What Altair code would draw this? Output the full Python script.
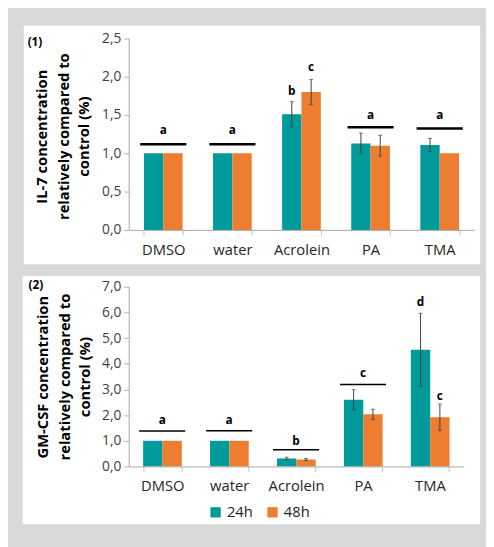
import altair as alt
import pandas as pd

categories = ["DMSO", "water", "Acrolein", "PA", "TMA"]
series_names = ["24h", "48h"]
colors = ["#009a9a", "#ed7d31"]

# Panel 1: IL-7
il7_title = ["IL-7 concentration", "relatively compared to", "control (%)"]
il7_24h = [1.00, 1.00, 1.51, 1.13, 1.11]
il7_24h_err = [0.0, 0.0, 0.165, 0.135, 0.085]
il7_48h = [1.00, 1.00, 1.80, 1.10, 1.00]
il7_48h_err = [0.0, 0.0, 0.165, 0.135, 0.0]
il7_group_cats = ["DMSO", "water", "PA", "TMA"]
il7_group_line = [1.12, 1.12, 1.34, 1.325]
il7_group_letter_y = [1.30, 1.30, 1.50, 1.50]
il7_group_letters = ["a", "a", "a", "a"]
il7_bar_cats = ["Acrolein", "Acrolein"]
il7_bar_series = ["24h", "48h"]
il7_bar_letter_y = [1.81, 2.13]
il7_bar_letters = ["b", "c"]

# Panel 2: GM-CSF
gm_title = ["GM-CSF concentration", "relatively compared to", "control (%)"]
gm_24h = [1.00, 1.00, 0.31, 2.60, 4.55]
gm_24h_err = [0.0, 0.0, 0.05, 0.39, 1.42]
gm_48h = [1.00, 1.00, 0.27, 2.03, 1.92]
gm_48h_err = [0.0, 0.0, 0.04, 0.20, 0.51]
gm_group_cats = ["DMSO", "water", "Acrolein", "PA"]
gm_group_line = [1.38, 1.39, 0.65, 3.19]
gm_group_letter_y = [1.79, 1.79, 1.00, 3.62]
gm_group_letters = ["a", "a", "b", "c"]
gm_bar_cats = ["TMA", "TMA"]
gm_bar_series = ["24h", "48h"]
gm_bar_letter_y = [6.39, 2.74]
gm_bar_letters = ["d", "c"]

FONT = "Open Sans"


def bars_frame(v24, e24, v48, e48):
    rows = []
    for c, a, ea, b, eb in zip(categories, v24, e24, v48, e48):
        rows.append({"cat": c, "series": "24h", "value": a, "lo": a - ea, "hi": a + ea})
        rows.append({"cat": c, "series": "48h", "value": b, "lo": b - eb, "hi": b + eb})
    return pd.DataFrame(rows)


def panel(v24, e24, v48, e48, gcats, gline, gly, glet, bcats, bser, bly, blet,
          width, height, ymax, ystep, title, title_x, title_y, label, rect, label_pos,
          pad_inner, line_thick, legend):
    df = bars_frame(v24, e24, v48, e48)
    df_err = df[df["hi"] > df["lo"]]
    gdf = pd.DataFrame({"cat": gcats, "y": gline, "ly": gly, "t": glet})
    bdf = pd.DataFrame({"cat": bcats, "series": bser, "ly": bly, "t": blet})

    xscale = alt.Scale(domain=categories, paddingInner=pad_inner, paddingOuter=pad_inner / 2)
    xax = alt.Axis(
        title=None, labelAngle=0, labelFont=FONT, labelFontSize=15, labelColor="#262626",
        domainColor="#a6a6a6", tickColor="#bfbfbf", tickSize=5, tickBand="extent",
        labelPadding=8, zindex=1)
    yvals = [round(i * ystep, 2) for i in range(int(round(ymax / ystep)) + 1)]
    yscale = alt.Scale(domain=[0, ymax], nice=False, zero=True)
    yax = alt.Axis(
        title=None, values=yvals, labelExpr="replace(format(datum.value, '.1f'), '.', ',')",
        labelFont=FONT, labelFontSize=14, labelColor="#404040", labelPadding=3,
        labelOverlap=False, domainColor="#a6a6a6", tickColor="#b4b4b4", tickSize=5,
        grid=False, zindex=1)

    def X():
        return alt.X("cat:N", scale=xscale, axis=xax)

    def XO():
        return alt.XOffset("series:N", scale=alt.Scale(domain=series_names, paddingInner=0, paddingOuter=0))

    def Y(field):
        return alt.Y(field, scale=yscale, axis=yax)

    one = pd.DataFrame({"k": [0]})
    bg = alt.Chart(one).mark_rect(color="white").encode(
        x=alt.value(rect[0]), x2=alt.value(rect[1]), y=alt.value(rect[2]), y2=alt.value(rect[3]))

    color = alt.Color("series:N", scale=alt.Scale(domain=series_names, range=colors),
                      legend=alt.Legend(title=None, orient="none", legendX=legend[0], legendY=legend[1],
                                        direction="horizontal", symbolType="square", symbolSize=110,
                                        symbolStrokeWidth=0, labelFont=FONT, labelFontSize=15,
                                        labelColor="#262626", columnPadding=12, padding=0, zindex=1)
                      if legend else None)

    bars = alt.Chart(df).mark_bar().encode(x=X(), xOffset=XO(), y=Y("value:Q"), color=color)
    err = alt.Chart(df_err).mark_rule(color="#404040", strokeWidth=1).encode(
        x=X(), xOffset=XO(), y=Y("lo:Q"), y2="hi:Q")
    cap_hi = alt.Chart(df_err).mark_tick(color="#404040", size=4, thickness=1).encode(
        x=X(), xOffset=XO(), y=Y("hi:Q"))
    cap_lo = alt.Chart(df_err).mark_tick(color="#404040", size=4, thickness=1).encode(
        x=X(), xOffset=XO(), y=Y("lo:Q"))
    sig = alt.Chart(gdf).mark_tick(color="#000000", size=47, thickness=line_thick, opacity=1).encode(
        x=X(), y=Y("y:Q"))
    glab = alt.Chart(gdf).mark_text(font=FONT, fontSize=12, fontWeight="bold", color="#000000",
                                    baseline="middle").encode(x=X(), y=Y("ly:Q"), text="t:N")
    blab = alt.Chart(bdf).mark_text(font=FONT, fontSize=12, fontWeight="bold", color="#000000",
                                    baseline="middle").encode(x=X(), xOffset=XO(), y=Y("ly:Q"), text="t:N")
    plabel = alt.Chart(one).mark_text(
        font=FONT, fontSize=12, fontWeight="bold", color="#000000", align="left", baseline="middle").encode(
        x=alt.value(label_pos[0]), y=alt.value(label_pos[1]), text=alt.value(label))
    title_layers = [
        alt.Chart(one).mark_text(font=FONT, fontSize=15, fontWeight="bold", color="#000000",
                                 angle=270, align="center", baseline="middle").encode(
            x=alt.value(tx), y=alt.value(title_y), text=alt.value(t))
        for t, tx in zip(title, title_x)
    ]

    return alt.layer(bg, bars, err, cap_hi, cap_lo, sig, glab, blab, plabel, *title_layers).properties(
        width=width, height=height)


top = panel(il7_24h, il7_24h_err, il7_48h, il7_48h_err,
            il7_group_cats, il7_group_line, il7_group_letter_y, il7_group_letters,
            il7_bar_cats, il7_bar_series, il7_bar_letter_y, il7_bar_letters,
            width=352, height=195, ymax=2.5, ystep=0.5,
            title=il7_title, title_x=(-88, -66, -45), title_y=100,
            label="(1)", rect=(-107, 358, -13, 230), label_pos=(-103, 4),
            pad_inner=0.44, line_thick=2.5, legend=None)

bottom = panel(gm_24h, gm_24h_err, gm_48h, gm_48h_err,
               gm_group_cats, gm_group_line, gm_group_letter_y, gm_group_letters,
               gm_bar_cats, gm_bar_series, gm_bar_letter_y, gm_bar_letters,
               width=341, height=183, ymax=7.0, ystep=1.0,
               title=gm_title, title_x=(-87, -65, -44), title_y=92,
               label="(2)", rect=(-108, 358, -11, 242), label_pos=(-102, -2),
               pad_inner=0.43, line_thick=1.6, legend=(81, 222))

chart = alt.vconcat(top, bottom, spacing=12).resolve_scale(color="independent").properties(
    padding={"left": 15, "top": 13, "right": 6, "bottom": 18},
    background="#d9d9d9",
).configure_view(strokeWidth=0)

chart.save("out.html", embed_options={"renderer": "svg", "actions": False})
